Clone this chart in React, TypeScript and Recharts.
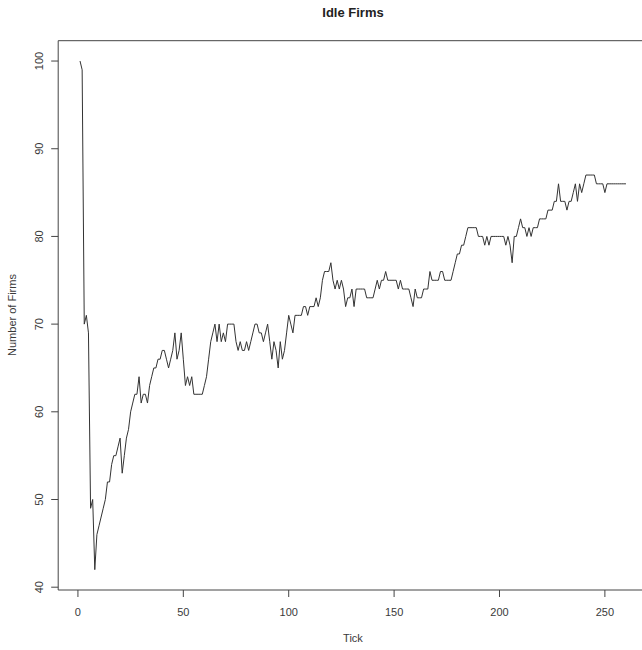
import React from "react";
import { LineChart, Line, XAxis, YAxis, ReferenceArea } from "recharts";

// Number of idle firms per tick (ticks 1..260)
const idleFirms: number[] = [
  100, 99, 70, 71, 69, 49, 50, 42, 46, 47, 48, 49, 50, 52, 52, 54, 55, 55, 56, 57,
  53, 55, 57, 58, 60, 61, 62, 62, 64, 61, 62, 62, 61, 63, 64, 65, 65, 66, 66, 67,
  67, 66, 65, 66, 67, 69, 66, 67, 69, 66, 63, 64, 63, 64, 62, 62, 62, 62, 62, 63,
  64, 66, 68, 69, 70, 68, 70, 68, 69, 68, 70, 70, 70, 70, 68, 67, 68, 67, 67, 68,
  67, 68, 69, 70, 70, 69, 69, 68, 69, 70, 68, 66, 68, 67, 65, 68, 66, 67, 69, 71,
  70, 69, 71, 71, 71, 71, 72, 72, 71, 72, 72, 72, 73, 72, 73, 75, 76, 76, 76, 77,
  75, 74, 75, 74, 75, 74, 72, 73, 73, 74, 72, 74, 74, 74, 74, 74, 73, 73, 73, 73,
  74, 75, 74, 75, 75, 76, 75, 75, 75, 75, 75, 74, 75, 74, 74, 74, 74, 73, 72, 74,
  73, 73, 73, 74, 74, 74, 76, 75, 75, 75, 75, 76, 76, 75, 75, 75, 75, 76, 77, 78,
  78, 79, 79, 80, 81, 81, 81, 81, 81, 80, 80, 80, 79, 80, 79, 80, 80, 80, 80, 80,
  80, 80, 79, 80, 79, 77, 80, 80, 81, 82, 81, 81, 80, 81, 80, 81, 81, 81, 82, 82,
  82, 82, 83, 83, 83, 84, 84, 86, 84, 84, 84, 83, 84, 84, 85, 86, 84, 86, 85, 86,
  87, 87, 87, 87, 87, 86, 86, 86, 86, 85, 86, 86, 86, 86, 86, 86, 86, 86, 86, 86,
];

const xTicks: number[] = [0, 50, 100, 150, 200, 250];
const yTicks: number[] = [40, 50, 60, 70, 80, 90, 100];
const xDomain: [number, number] = [-9.36, 270.36];
const yDomain: [number, number] = [39.68, 102.32];

const titleText = "Idle Firms";
const xLabel = "Tick";
const yLabel = "Number of Firms";

const data = idleFirms.map((v, i) => ({ tick: i + 1, firms: v }));

const FONT = "'Liberation Sans', Arial, Helvetica, sans-serif";
const TEXT = "#3a3a3a";

const XTick = (props: any) => {
  const { x, payload } = props;
  return (
    <text x={x} y={616} textAnchor="middle" fontSize={11} fill={TEXT} fontFamily={FONT}>
      {payload.value}
    </text>
  );
};

const YTick = (props: any) => {
  const { y, payload } = props;
  return (
    <text
      x={43}
      y={y}
      transform={`rotate(-90 43 ${y})`}
      textAnchor="middle"
      fontSize={11}
      fill={TEXT}
      fontFamily={FONT}
    >
      {payload.value}
    </text>
  );
};

export default function App() {
  return (
    <div
      style={{
        position: "absolute",
        left: 0,
        top: 0,
        width: 642,
        height: 650,
        overflow: "hidden",
        background: "#fff",
      }}
    >
      <LineChart
        width={700}
        height={650}
        data={data}
        margin={{ top: 40.7, right: 52.2, bottom: 0, left: 0 }}
      >
        <XAxis
          dataKey="tick"
          type="number"
          domain={xDomain}
          ticks={xTicks}
          allowDataOverflow
          interval={0}
          height={60}
          axisLine={false}
          tickLine={{ stroke: "#444", strokeWidth: 1 }}
          tickSize={7}
          tick={<XTick />}
        />
        <YAxis
          dataKey="firms"
          type="number"
          domain={yDomain}
          ticks={yTicks}
          allowDataOverflow
          interval={0}
          width={58.2}
          axisLine={false}
          tickLine={{ stroke: "#444", strokeWidth: 1 }}
          tickSize={7}
          tick={<YTick />}
        />
        <ReferenceArea
          x1={xDomain[0]}
          x2={xDomain[1]}
          y1={yDomain[0]}
          y2={yDomain[1]}
          fill="none"
          fillOpacity={0}
          stroke="#444"
          strokeWidth={1}
          ifOverflow="visible"
        />
        <Line
          type="linear"
          dataKey="firms"
          stroke="#333"
          strokeWidth={1}
          dot={false}
          activeDot={false}
          isAnimationActive={false}
        />
      </LineChart>
      <svg
        width={642}
        height={650}
        style={{ position: "absolute", left: 0, top: 0, pointerEvents: "none" }}
      >
        <text x={353} y={17.3} textAnchor="middle" fontSize={13} fontWeight="bold" fill="#222" fontFamily={FONT}>
          {titleText}
        </text>
        <text x={353} y={642} textAnchor="middle" fontSize={11} fill={TEXT} fontFamily={FONT}>
          {xLabel}
        </text>
        <text
          x={16}
          y={315}
          transform="rotate(-90 16 315)"
          textAnchor="middle"
          fontSize={11}
          fill={TEXT}
          fontFamily={FONT}
        >
          {yLabel}
        </text>
      </svg>
    </div>
  );
}
